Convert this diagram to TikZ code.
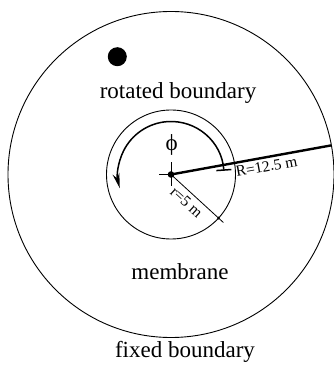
\documentclass[tikz,border=0pt]{standalone}
\usepackage{fontspec}
\setmainfont{Liberation Serif}
\usetikzlibrary{arrows.meta,calc}
\begin{document}
\begin{tikzpicture}[x=1pt,y=1pt,
  boundary/.style={line width=0.9pt},
  radline/.style={line width=2.4pt},
  thinline/.style={line width=0.8pt},
  biglabel/.style={font=\fontsize{23}{26}\selectfont, inner sep=0pt},
  smalllabel/.style={font=\fontsize{15.5}{18}\selectfont, inner sep=0pt}]
\useasboundingbox (0,0) rectangle (334,367);
\coordinate (C) at (171,192.5);
% circles
\draw[boundary] (C) circle[radius=163];
\draw[boundary] (C) circle[radius=64.5];
% rotating point
\fill (117.3,310.3) circle[radius=9.5];
% cross at centre
\coordinate (cl) at ($(C)+(-12,0)$);
\coordinate (ct) at ($(C)+(0,12)$);
\coordinate (cb) at ($(C)+(0,-12)$);
\draw[thinline] (cl) -- (C);
\draw[thinline] (ct) -- (cb);
% big radius
\coordinate (Rend) at ($(C)+(10.3:163)$);
\draw[radline] (C) -- (Rend);
% small radius
\coordinate (rdot) at ($(C)+(-42.5:64.5)$);
\coordinate (rend) at ($(C)+(-42.5:71)$);
\draw[thinline] (C) -- (rend);
\fill (rdot) circle[radius=1.6];
\fill (C) circle[radius=3.3];
% rotation arc
\draw[line width=1.5pt, {Bar[width=15pt]}-{Stealth[length=15pt,width=7pt]}]
  ($(C)+(4:53)$) arc[start angle=4, end angle=195, radius=53];
% labels
\node[biglabel] (phi) at (171.7,222) {ϕ};
\node[biglabel] (rot) at (178,274) {rotated boundary};
\node[biglabel] (mem) at (180,95) {membrane};
\node[biglabel] (fix) at (185,15) {fixed boundary};
\node[smalllabel, rotate=10.3] (Rl) at (266.5,200.5) {R=12.5 m};
\node[smalllabel, rotate=-42.5] (rl) at (186.5,164.5) {r=5 m};
\end{tikzpicture}
\end{document}
